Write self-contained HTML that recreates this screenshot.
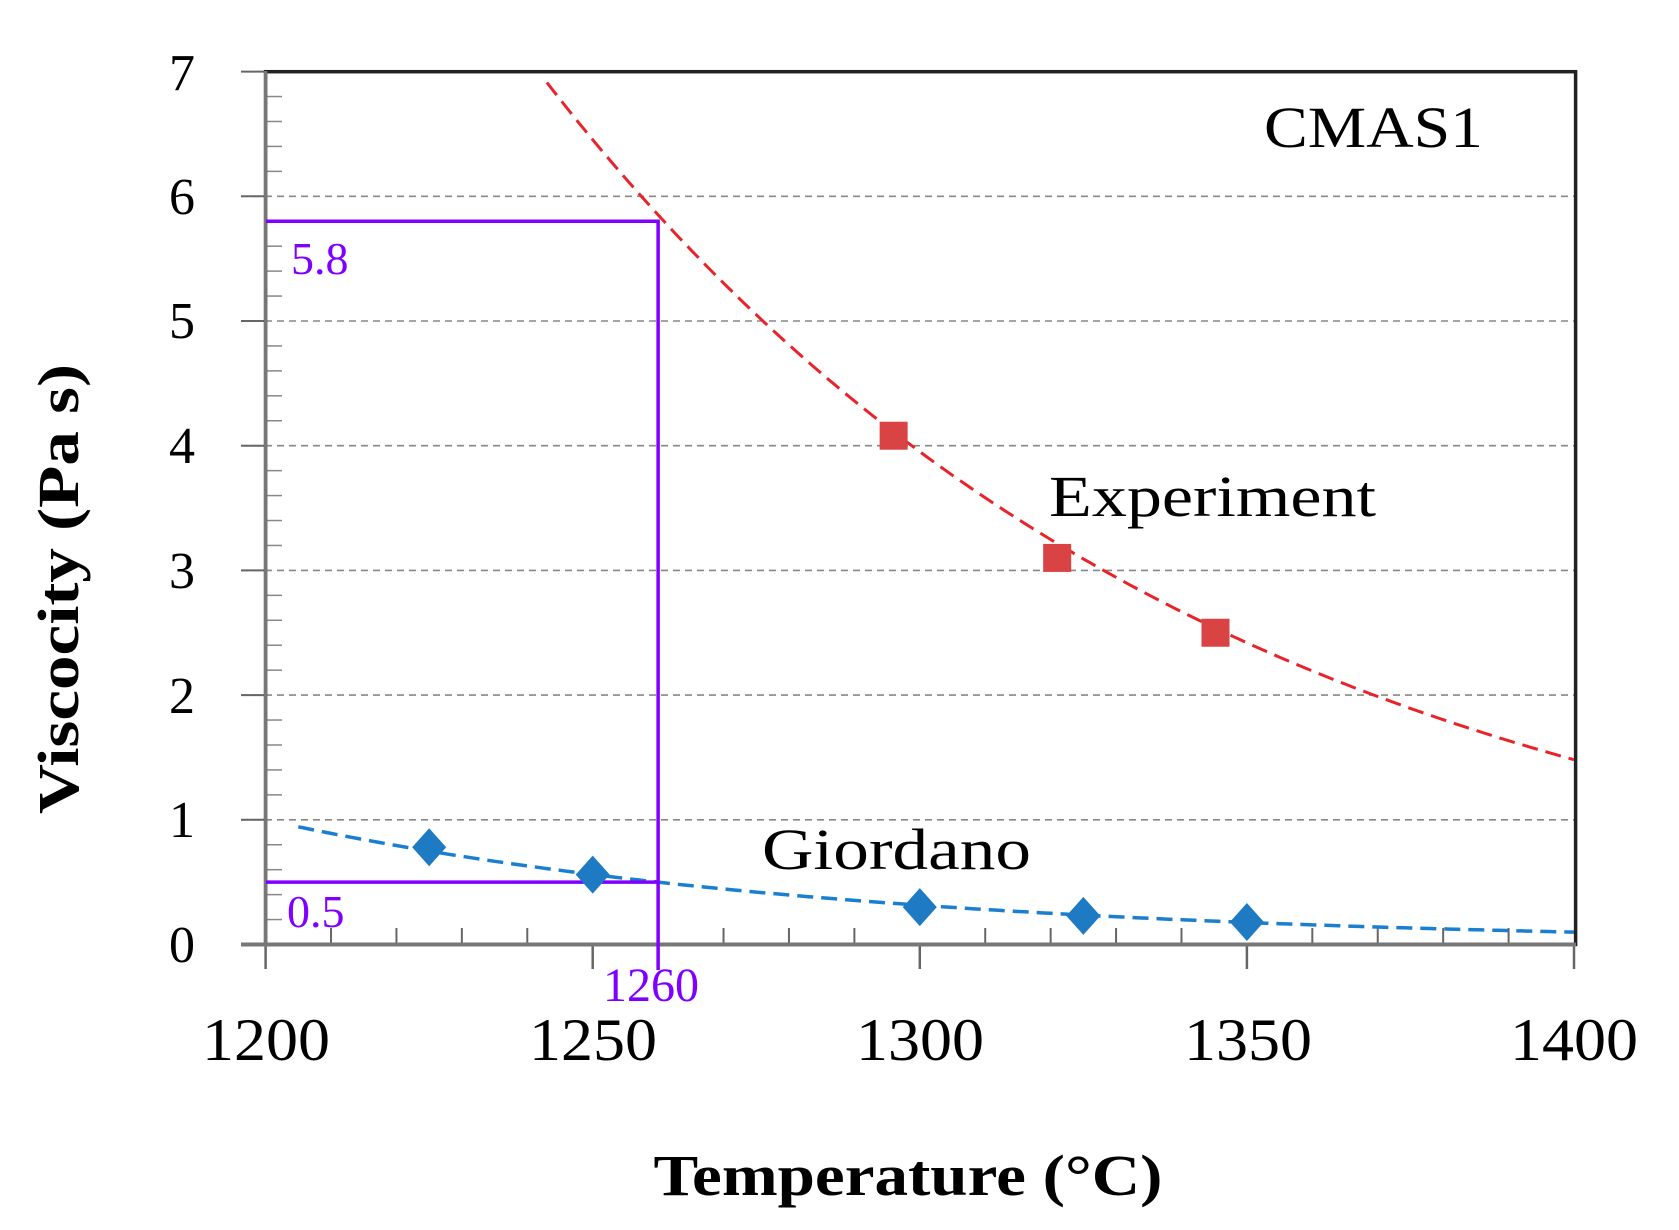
<!DOCTYPE html>
<html><head><meta charset="utf-8"><style>
html,body{margin:0;padding:0;background:#fff;}
svg{display:block;}
</style></head><body>
<svg id="s" width="1679" height="1230" viewBox="0 0 1679 1230" xmlns="http://www.w3.org/2000/svg" font-family="Liberation Serif, serif">
<g id="g"></g>
<text x="182" y="962" font-size="52" text-anchor="middle">0</text>
<text x="182" y="837" font-size="52" text-anchor="middle">1</text>
<text x="182" y="713" font-size="52" text-anchor="middle">2</text>
<text x="182" y="588" font-size="52" text-anchor="middle">3</text>
<text x="182" y="463" font-size="52" text-anchor="middle">4</text>
<text x="182" y="338" font-size="52" text-anchor="middle">5</text>
<text x="182" y="214" font-size="52" text-anchor="middle">6</text>
<text x="182" y="90" font-size="52" text-anchor="middle">7</text>
<text x="266" y="1060" font-size="60" text-anchor="middle" textLength="128" lengthAdjust="spacingAndGlyphs">1200</text>
<text x="593" y="1060" font-size="60" text-anchor="middle" textLength="128" lengthAdjust="spacingAndGlyphs">1250</text>
<text x="920" y="1060" font-size="60" text-anchor="middle" textLength="128" lengthAdjust="spacingAndGlyphs">1300</text>
<text x="1248" y="1060" font-size="60" text-anchor="middle" textLength="128" lengthAdjust="spacingAndGlyphs">1350</text>
<text x="1574" y="1060" font-size="60" text-anchor="middle" textLength="128" lengthAdjust="spacingAndGlyphs">1400</text>
<text x="908" y="1195" font-size="58" font-weight="bold" text-anchor="middle" textLength="509" lengthAdjust="spacingAndGlyphs">Temperature (°C)</text>
<text transform="translate(78,589) rotate(-90)" font-size="58" font-weight="bold" text-anchor="middle" textLength="450" lengthAdjust="spacingAndGlyphs">Viscocity (Pa s)</text>
<text x="1264" y="147" font-size="58" textLength="219" lengthAdjust="spacingAndGlyphs">CMAS1</text>
<text x="1049" y="516" font-size="58" textLength="327" lengthAdjust="spacingAndGlyphs">Experiment</text>
<text x="762" y="869" font-size="58" textLength="269" lengthAdjust="spacingAndGlyphs">Giordano</text>
<text x="291" y="274" font-size="46" fill="#7f00ff">5.8</text>
<text x="287" y="927" font-size="46" fill="#7f00ff">0.5</text>
<text x="603" y="1001" font-size="48" fill="#7f00ff">1260</text>
</svg>
<script>
var g=document.getElementById('g');var ns='http://www.w3.org/2000/svg';
function X(t){return 265.6+(t-1200)*6.542;}function Y(v){return 944.5-v*124.7;}
function el(n,a){var e=document.createElementNS(ns,n);for(var k in a)e.setAttribute(k,a[k]);g.appendChild(e);return e;}
for(var i=1;i<=6;i++)el('line',{x1:241,x2:1574,y1:Y(i),y2:Y(i),stroke:'#888','stroke-width':1.6,'stroke-dasharray':'7,5'});
for(var i=0;i<=7;i++)el('line',{x1:241,x2:266,y1:Y(i),y2:Y(i),stroke:'#666','stroke-width':2});
for(var i=0;i<35;i++)if(i%5)el('line',{x1:266,x2:282,y1:Y(i/5),y2:Y(i/5),stroke:'#888','stroke-width':1.5});
for(var t=1200;t<=1400;t+=10){var maj=(t%50==0);el('line',{x1:X(t),x2:X(t),y1:maj?969:928,y2:944,stroke:'#666','stroke-width':maj?2.5:2});}
el('rect',{x:265.6,y:71.7,width:1310,height:872.8,fill:'none',stroke:'#222','stroke-width':3.5});
el('line',{x1:241,x2:1576,y1:944.5,y2:944.5,stroke:'#777','stroke-width':4});
el('line',{x1:265.6,x2:265.6,y1:71,y2:946,stroke:'#777','stroke-width':3.5});
function curve(a,b,t0,t1){var d='';for(var t=t0;t<=t1;t+=1){d+=(t==t0?'M':'L')+X(t).toFixed(1)+','+Y(a*Math.exp(-b*(t-1200))).toFixed(1);}return d;}
el('path',{d:curve(10.54,0.00981,1243,1400),fill:'none',stroke:'#e8242a','stroke-width':3,'stroke-dasharray':'16,8'});
el('path',{d:curve(1.0,0.01155,1205,1400),fill:'none',stroke:'#1a7fd0','stroke-width':3.5,'stroke-dasharray':'16,8'});
var P='#7f00ff';
el('polyline',{points:'266,'+Y(5.8)+' '+X(1260)+','+Y(5.8)+' '+X(1260)+',970',fill:'none',stroke:P,'stroke-width':3.5});
el('line',{x1:266,x2:X(1260),y1:Y(0.5),y2:Y(0.5),stroke:P,'stroke-width':3.5});
[[1296,4.08],[1321,3.1],[1345.2,2.5]].forEach(function(p){el('rect',{x:X(p[0])-14,y:Y(p[1])-14,width:28,height:28,fill:'#d94343'});});
[[1225,0.78],[1250,0.56],[1300,0.3],[1325,0.23],[1350,0.18]].forEach(function(p){var x=X(p[0]),y=Y(p[1]);el('polygon',{points:x+','+(y-19)+' '+(x+17)+','+y+' '+x+','+(y+19)+' '+(x-17)+','+y,fill:'#1f7ac4'});});
</script>
</body></html>
